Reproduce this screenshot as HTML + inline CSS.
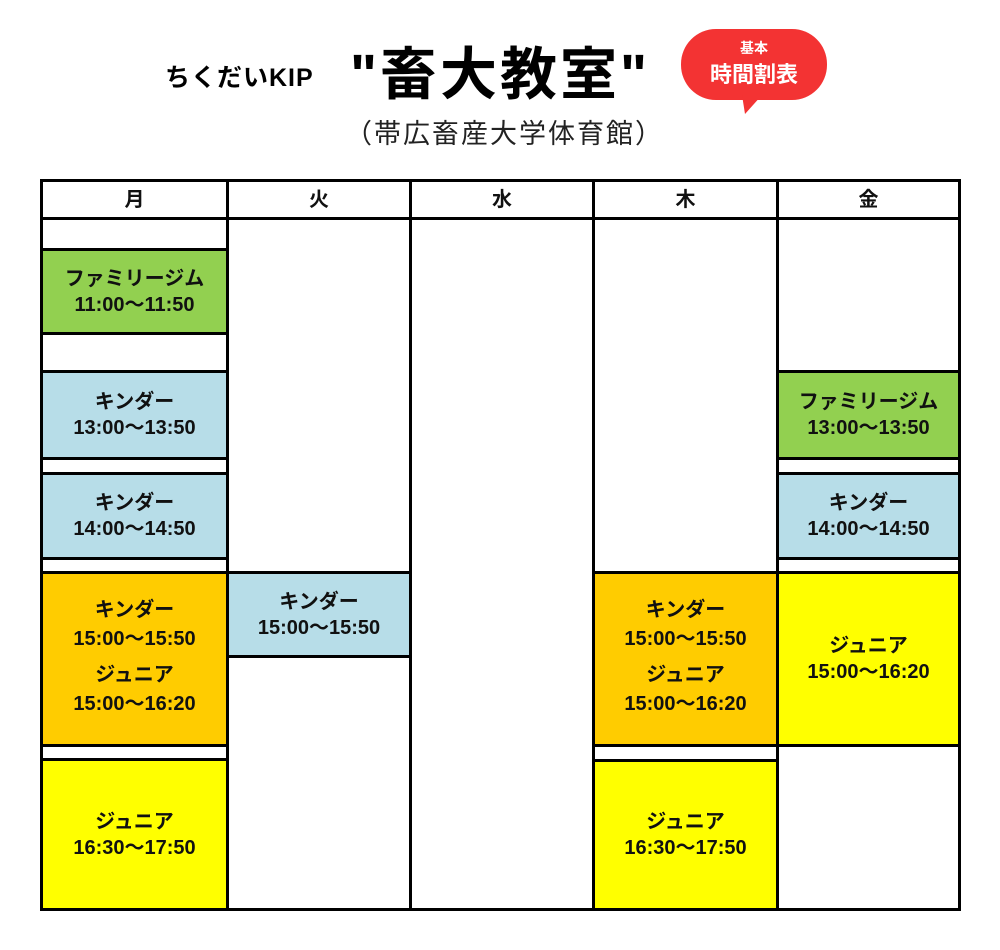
<!DOCTYPE html>
<html><head><meta charset="utf-8"><style>
body{margin:0;width:1000px;height:950px;background:#fff;position:relative;overflow:hidden;font-family:"Liberation Sans","Noto Sans CJK JP",sans-serif;}
.c{position:absolute;box-sizing:border-box;border:3px solid #000;display:flex;flex-direction:column;align-items:center;justify-content:center;font-weight:bold;font-size:20px;line-height:26px;color:#111;text-align:center;}
.c span{display:block;}
.a{position:absolute;white-space:nowrap;}
.g{background:#92d050}.b{background:#b7dde8}.o{background:#ffcc00}.y{background:#ffff00}.w{background:#fff}
</style></head><body>
<div class="a" style="left:165px;top:58px;font-size:25px;font-weight:bold;letter-spacing:1px;">ちくだいKIP</div>
<div class="a" style="left:350px;top:29px;font-size:57px;font-weight:bold;letter-spacing:3px;">"畜大教室"</div>
<div class="a" style="left:345px;top:112px;font-size:27px;color:#222;letter-spacing:2px;">（帯広畜産大学体育館）</div>
<svg style="position:absolute;left:0;top:0" width="1000" height="130"><rect x="681" y="29" width="146" height="71" rx="35" fill="#f33333"/><polygon points="742,95 762,95 745,114" fill="#f33333"/></svg>
<div class="a" style="left:681px;top:38px;width:146px;text-align:center;color:#fff;font-weight:bold;font-size:14px;">基本</div>
<div class="a" style="left:681px;top:57px;width:146px;text-align:center;color:#fff;font-weight:bold;font-size:22px;">時間割表</div>

<div class="c w" style="left:40px;top:179px;width:189px;height:41px">月</div>
<div class="c w" style="left:226px;top:179px;width:186px;height:41px">火</div>
<div class="c w" style="left:409px;top:179px;width:186px;height:41px">水</div>
<div class="c w" style="left:592px;top:179px;width:187px;height:41px">木</div>
<div class="c w" style="left:776px;top:179px;width:185px;height:41px">金</div>

<div class="c w" style="left:40px;top:217px;width:189px;height:34px"></div>
<div class="c g" style="left:40px;top:248px;width:189px;height:87px">ファミリージム<br>11:00〜11:50</div>
<div class="c w" style="left:40px;top:332px;width:189px;height:42px"></div>
<div class="c b" style="left:40px;top:370px;width:189px;height:90px">キンダー<br>13:00〜13:50</div>
<div class="c w" style="left:40px;top:457px;width:189px;height:18px"></div>
<div class="c b" style="left:40px;top:472px;width:189px;height:88px">キンダー<br>14:00〜14:50</div>
<div class="c w" style="left:40px;top:557px;width:189px;height:17px"></div>
<div class="c o" style="left:40px;top:571px;width:189px;height:176px;line-height:29px;padding-bottom:4px"><span>キンダー</span><span>15:00〜15:50</span><span style="margin-top:7px">ジュニア</span><span>15:00〜16:20</span></div>
<div class="c w" style="left:40px;top:744px;width:189px;height:17px"></div>
<div class="c y" style="left:40px;top:758px;width:189px;height:153px">ジュニア<br>16:30〜17:50</div>

<div class="c w" style="left:226px;top:217px;width:186px;height:357px"></div>
<div class="c b" style="left:226px;top:571px;width:186px;height:87px">キンダー<br>15:00〜15:50</div>
<div class="c w" style="left:226px;top:655px;width:186px;height:256px"></div>

<div class="c w" style="left:409px;top:217px;width:186px;height:694px"></div>

<div class="c w" style="left:592px;top:217px;width:187px;height:357px"></div>
<div class="c o" style="left:592px;top:571px;width:187px;height:176px;line-height:29px;padding-bottom:4px"><span>キンダー</span><span>15:00〜15:50</span><span style="margin-top:7px">ジュニア</span><span>15:00〜16:20</span></div>
<div class="c w" style="left:592px;top:744px;width:187px;height:18px"></div>
<div class="c y" style="left:592px;top:759px;width:187px;height:152px">ジュニア<br>16:30〜17:50</div>

<div class="c w" style="left:776px;top:217px;width:185px;height:157px"></div>
<div class="c g" style="left:776px;top:370px;width:185px;height:90px">ファミリージム<br>13:00〜13:50</div>
<div class="c w" style="left:776px;top:457px;width:185px;height:18px"></div>
<div class="c b" style="left:776px;top:472px;width:185px;height:88px">キンダー<br>14:00〜14:50</div>
<div class="c w" style="left:776px;top:557px;width:185px;height:17px"></div>
<div class="c y" style="left:776px;top:571px;width:185px;height:176px">ジュニア<br>15:00〜16:20</div>
<div class="c w" style="left:776px;top:744px;width:185px;height:167px"></div>
<div style="position:absolute;left:40px;top:179px;width:921px;height:732px;border:3px solid #000;box-sizing:border-box;"></div>
</body></html>
